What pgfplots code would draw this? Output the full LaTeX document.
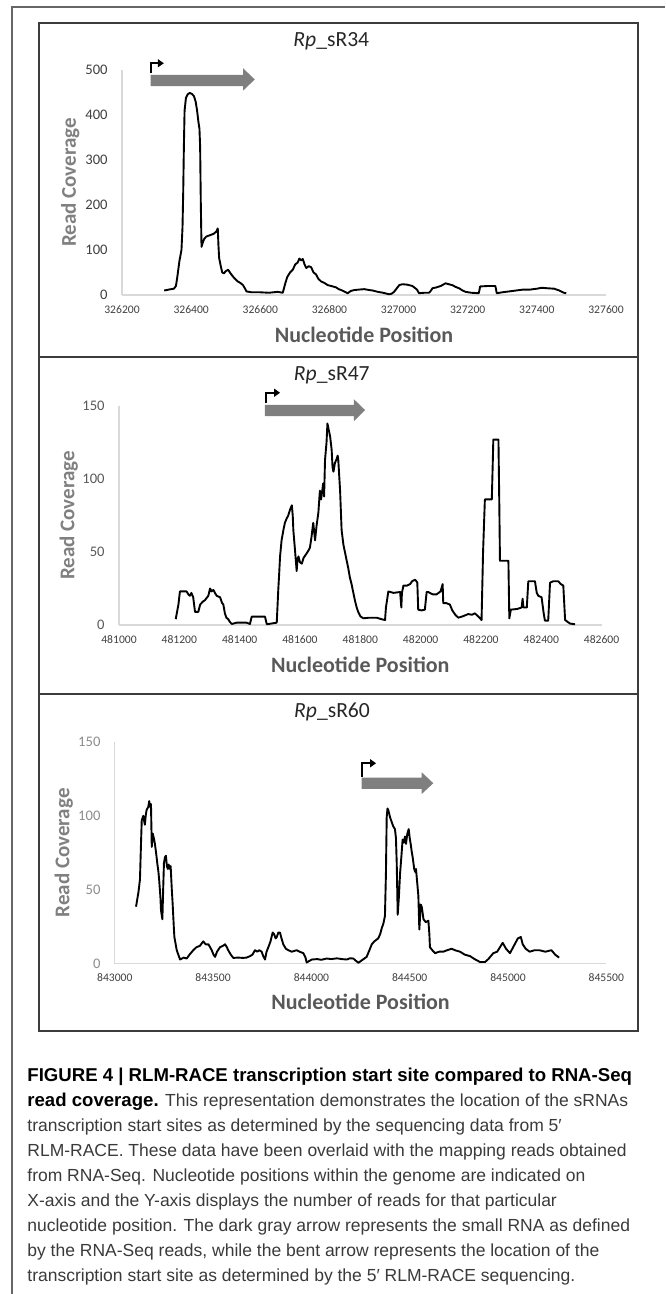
\documentclass[border=0pt]{standalone}
\usepackage{fontspec}
\setmainfont{Carlito}
\newfontfamily\capfont{Liberation Sans}
\usepackage{pgfplots}
\pgfplotsset{compat=1.18}
\usepackage{pgfplotstable}
\usetikzlibrary{arrows.meta}

\definecolor{axgray}{HTML}{D9D9D9}
\definecolor{ticktxt}{HTML}{404040}
\definecolor{ylab}{HTML}{808080}
\definecolor{xlab}{HTML}{595959}
\definecolor{arrgray}{HTML}{7F7F7F}
\definecolor{boxline}{HTML}{3C3C3C}
\definecolor{captxt}{HTML}{3A3A3A}

% coverage, Rp_sR34
\pgfplotstableread{
x y
326322 10
326335 12
326350 14
326356 20
326360 40
326366 75
326372 100
326375 150
326377 226
326379 330
326381 410
326385 438
326390 446
326396 449
326402 447
326408 442
326413 430
326417 411
326421 385
326424 370
326426 330
326428 200
326430 107
326433 115
326438 125
326444 130
326455 133
326465 136
326473 141
326477 148
326479 110
326481 82
326486 63
326490 50
326495 48
326500 53
326507 56
326514 48
326521 41
326528 35
326535 30
326542 27
326550 22
326556 14
326560 8
326575 6
326600 6
326625 5
326650 7
326665 5
326672 25
326678 40
326686 50
326694 56
326701 68
326708 72
326713 81
326718 77
326723 80
326728 68
326733 60
326740 64
326747 62
326754 50
326761 46
326768 36
326776 30
326785 27
326795 22
326805 20
326819 17
326827 13
326834 11
326845 7
326853 4
326862 9
326872 11
326885 12
326901 13
326915 11
326925 10
326940 7
326955 5
326973 1.5
326980 3
326987 7
326995 15
327002 22
327011 24
327025 23
327040 20
327050 14
327054 11
327059 4
327075 5
327088 5
327094 10
327098 15
327110 17
327122 20
327136 26
327145 24
327155 22
327165 18
327175 15
327185 10
327194 7
327210 5
327232 4
327236 19
327258 20
327280 20
327284 4
327300 6
327320 8
327340 10
327360 12
327380 12
327400 14
327414 16
327430 15
327450 14
327465 10
327478 5
327485 4
}\sRa

% coverage, Rp_sR47
\pgfplotstableread{
x y
481188 4
481197 14
481202 23
481213 23
481224 23
481230 21
481235 20
481240 22
481246 19
481252 9
481263 9
481269 14
481278 16
481285 17
481296 20
481302 25
481307 23
481313 24
481318 22
481324 20
481335 19
481342 15
481346 14
481351 8
481356 5
481362 4
481368 2
481374 0.7
481390 1.6
481423 1.6
481434 0.7
481440 5.7
481484 5.7
481490 0.5
481523 1.6
481526 15
481528 24
481531 35
481534 47
481539 58
481545 65
481550 70
481556 73
481561 75
481567 79
481573 82
481576 75
481578 65
481584 50
481589 37
481592 45
481595 47
481600 43
481606 42
481612 46
481622 49
481628 51
481633 53
481638 60
481644 70
481650 58
481655 68
481661 77
481666 92
481670 86
481677 97
481680 88
481683 113
481688 125
481691 138
481695 134
481700 129
481705 120
481708 108
481711 105
481716 111
481722 114
481725 116
481727 113
481733 92
481738 65
481744 55
481749 50
481755 44
481760 39
481765 33
481771 28
481777 22
481782 17
481788 12
481793 9
481800 6
481810 4.6
481830 5
481854 5
481870 4
481882 3.4
481885 12
481893 23
481910 22
481932 22.6
481936 12
481938 22
481943 27
481955 27
481965 28
481972 30
481981 31
481986 30
481989 29
481992 10.5
482003 10
482014 10.5
482020 22.6
482025 22.6
482040 21
482053 21
482066 23
482073 28
482075 15
482085 15
482097 14
482105 10
482115 7
482125 5
482140 6
482158 7.5
482170 7
482180 8
482195 5
482202 3.4
482207 50
482213 86
482236 86
482239 110
482241 127
482258 127
482261 80
482263 44
482291 44
482294 4.5
482299 10.5
482320 11
482335 12
482338 18
482341 12
482352 12
482357 30
482379 30
482385 22
482390 20
482401 19
482408 8
482412 3
482423 3
482429 29
482440 30
482456 30
482465 28
482473 27
482479 3.4
482495 1
482512 0.5
}\sRb

% coverage, Rp_sR60
\pgfplotstableread{
x y
843108 38.5
843120 48
843128 57
843133 80
843137 97
843145 100
843150 96
843153 94
843158 101
843162 104
843170 106
843175 110
843180 106
843184 108
843188 79
843193 88
843200 84
843204 81
843210 75
843216 68
843222 62
843226 56
843232 45
843235 36
843242 30
843246 50
843250 68
843255 72
843260 73
843265 66
843270 64
843274 67
843280 64
843284 66
843290 50
843294 41
843300 25
843303 18
843315 9
843332 2.7
843350 4
843366 3.4
843380 6
843399 9
843415 11
843433 12
843450 15
843462 13
843476 13
843485 11
843493 9
843502 6
843510 4.5
843520 8
843535 11
843550 12
843561 13
843570 11
843577 9
843590 6
843603 3.8
843625 4
843654 3.8
843670 4
843688 5
843700 6
843713 9
843725 8
843735 9
843747 8
843755 5
843764 2.7
843772 8
843781 11
843792 15
843803 21
843810 20
843818 17
843824 18
843832 21
843840 21
843848 17
843857 13
843870 10
843883 9
843900 8
843925 9
843940 8
843959 7
843970 4
843976 0.7
844002 2.7
844030 3
844050 2.5
844078 3.4
844100 3
844130 3.5
844155 3
844180 2.7
844195 3.5
844213 3.4
844225 2
844239 0.5
844260 2.5
844281 4.5
844295 9
844307 13
844320 15
844340 17
844350 20
844358 24
844366 27
844374 32
844379 60
844383 99
844387 105
844391 104
844400 99
844408 96
844416 93
844425 91
844430 85
844434 68
844439 33
844445 45
844451 61
844458 73
844464 84
844470 82
844476 86
844481 81
844488 88
844495 91
844500 85
844505 81
844510 76
844515 72
844519 68
844523 64
844528 62
844532 64
844538 55
844544 46
844549 23
844552 30
844556 40
844562 38
844570 30
844582 28
844595 29
844600 20
844603 11
844615 9
844629 7
844650 8
844671 8
844690 9
844714 10
844730 9
844756 8
844780 6
844807 5
844830 3
844858 1
844883 1
844900 3
844925 7
844945 8
844973 14
844990 10
845010 7
845030 12
845050 17
845065 18
845075 13
845090 10
845110 8
845135 9
845160 9
845190 8
845221 9
845240 6
845260 4
}\sRc

\pgfplotsset{
  covstyle/.style={
    scale only axis,
    anchor=south west,
    axis lines*=left,
    axis line style={draw=axgray, line width=0.6pt},
    major tick length=0pt,
    clip=false,
    scaled x ticks=false,
    scaled y ticks=false,
    /pgf/number format/assume math mode=true,
    /pgf/number format/fixed,
    /pgf/number format/precision=0,
    /pgf/number format/1000 sep={},
    xticklabel style={font=\fontsize{5.8}{6}\selectfont, text=ticktxt, anchor=base,
      inner sep=0pt, yshift=-9.2pt},
    yticklabel style={font=\fontsize{7.3}{8}\selectfont, inner sep=0pt, xshift=-7pt},
    xlabel={Nucleotide Position},
    ylabel={Read Coverage},
    xlabel style={font=\bfseries\fontsize{11}{12}\selectfont, text=xlab, anchor=center},
    ylabel style={font=\bfseries\fontsize{10.5}{12}\selectfont, text=ylab, anchor=center},
    every axis title shift=0pt,
    title style={font=\fontsize{10.8}{12}\selectfont, text=black!85, anchor=center, yshift=0pt},
  },
  cov/.style={black, line width=0.95pt, mark=none, line join=round},
}
\tikzset{tss/.style={line width=1pt, -{Triangle[length=3pt, width=4pt]}}}

\begin{document}
\begin{tikzpicture}[x=0.5pt, y=-0.5pt]
\useasboundingbox (0,0) rectangle (665,1294);
\draw[gray!80!black, line width=0.6pt] (12,1294) -- (12,7) -- (665,7);
\draw[boxline, line width=0.7pt] (39,23) rectangle (638,1031);
\draw[boxline, line width=0.7pt] (39,357) -- (638,357);
\draw[boxline, line width=0.7pt] (39,694) -- (638,694);

% panel 1
\begin{axis}[covstyle,
  at={(61pt,-147.5pt)}, width=242pt, height=112.5pt,
  xmin=326200, xmax=327600, ymin=0, ymax=500,
  xtick={326200,326400,326600,326800,327000,327200,327400,327600},
  xticklabels={326200,326400,326600,326800,327000,327200,327400,327600},
  ytick={0,100,200,300,400,500},
  yticklabel style={text=ticktxt},
  title={\textit{Rp}\_sR34},
  title style={at={(axis description cs:0.4325,1.129)}},
  xlabel style={at={(axis description cs:0.5,-0.178)}},
  ylabel style={at={(axis description cs:-0.107,0.5)}},
]
\addplot[cov] table[x=x, y=y] {\sRa};
\fill[arrgray] (axis cs:326283,464) -- (axis cs:326550,464) -- (axis cs:326550,454)
  -- (axis cs:326584,479) -- (axis cs:326550,504) -- (axis cs:326550,489)
  -- (axis cs:326283,489) -- cycle;
\draw[tss] (axis cs:326283,493) -- (axis cs:326283,515) -- (axis cs:326321,515);
\end{axis}

% panel 2
\begin{axis}[covstyle,
  at={(59.5pt,-312.5pt)}, width=241.3pt, height=109.5pt,
  xmin=481000, xmax=482600, ymin=0, ymax=150,
  xtick={481000,481200,481400,481600,481800,482000,482200,482400,482600},
  xticklabels={481000,481200,481400,481600,481800,482000,482200,482400,482600},
  ytick={0,50,100,150},
  yticklabel style={text=xlab},
  title={\textit{Rp}\_sR47},
  title style={at={(axis description cs:0.441,1.142)}},
  xlabel style={at={(axis description cs:0.5,-0.183)}},
  ylabel style={at={(axis description cs:-0.104,0.5)}},
]
\addplot[cov] table[x=x, y=y] {\sRb};
\fill[arrgray] (axis cs:481484,143.1) -- (axis cs:481779,143.1) -- (axis cs:481779,139.7)
  -- (axis cs:481816,147.2) -- (axis cs:481779,154.6) -- (axis cs:481779,150.7)
  -- (axis cs:481484,150.7) -- cycle;
\draw[tss] (axis cs:481487,151.8) -- (axis cs:481487,159.1) -- (axis cs:481534,159.1);
\end{axis}

% panel 3
\begin{axis}[covstyle,
  at={(57.4pt,-481.75pt)}, width=245.75pt, height=110.75pt,
  xmin=843000, xmax=845500, ymin=0, ymax=150,
  xtick={843000,843500,844000,844500,845000,845500},
  xticklabels={843000,843500,844000,844500,845000,845500},
  ytick={0,50,100,150},
  yticklabel style={text=gray!90},
  title={\textit{Rp}\_sR60},
  title style={at={(axis description cs:0.442,1.135)}},
  xlabel style={at={(axis description cs:0.5,-0.174)}},
  ylabel style={at={(axis description cs:-0.104,0.5)}},
]
\addplot[cov] table[x=x, y=y] {\sRc};
\fill[arrgray] (axis cs:844256,118.2) -- (axis cs:844561,118.2) -- (axis cs:844561,114.8)
  -- (axis cs:844620,122.1) -- (axis cs:844561,129.5) -- (axis cs:844561,125.8)
  -- (axis cs:844256,125.8) -- cycle;
\draw[tss] (axis cs:844256,126.5) -- (axis cs:844256,135.6) -- (axis cs:844329,135.6);
\end{axis}

% caption
\begin{scope}[every node/.style={anchor=base west, inner sep=0pt, text=captxt,
    font=\capfont\fontsize{8.75}{11}\selectfont}]
\node[text=black, font=\capfont\bfseries\fontsize{9.3}{11}\selectfont] at (27,1081) {FIGURE 4 | RLM-RACE transcription start site compared to RNA-Seq};
\node at (27,1106) {{\color{black}\bfseries\fontsize{9.3}{11}\selectfont read coverage.} This representation demonstrates the location of the sRNAs};
\node at (27,1131) {transcription start sites as determined by the sequencing data from 5′};
\node at (27,1156) {RLM-RACE. These data have been overlaid with the mapping reads obtained};
\node at (27,1181) {from RNA-Seq. Nucleotide positions within the genome are indicated on};
\node at (27,1206) {X-axis and the Y-axis displays the number of reads for that particular};
\node at (27,1231) {nucleotide position. The dark gray arrow represents the small RNA as defined};
\node at (27,1256) {by the RNA-Seq reads, while the bent arrow represents the location of the};
\node at (27,1281) {transcription start site as determined by the 5′ RLM-RACE sequencing.};
\end{scope}
\end{tikzpicture}
\end{document}
